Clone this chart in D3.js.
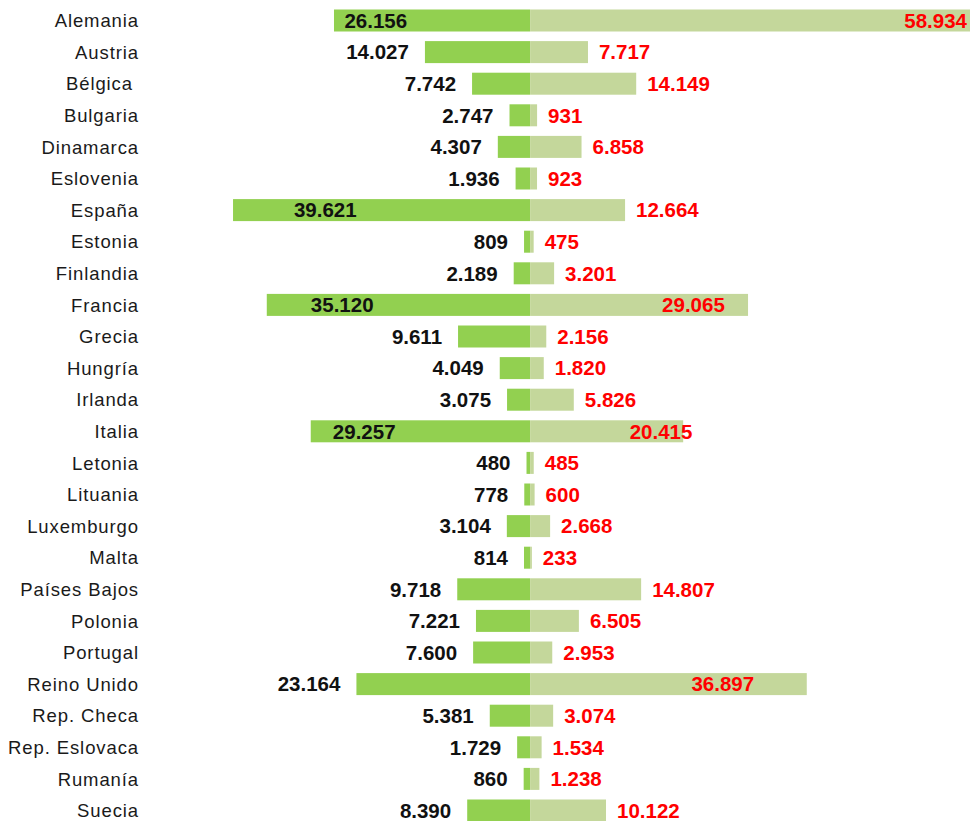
<!DOCTYPE html>
<html>
<head>
<meta charset="utf-8">
<script src="https://cdn.jsdelivr.net/npm/d3@7"></script>
<style>
  body { margin: 0; background: #fff; }
  svg { display: block; }
  .country { font-family: "Liberation Sans", Arial, sans-serif; font-size: 18.5px; letter-spacing: 0.9px; fill: #1a1a1a; white-space: pre; }
  .val { font-family: "Liberation Sans", Arial, sans-serif; font-size: 20.5px; font-weight: bold; }
  .val-left { fill: #111; }
  .val-right { fill: #ff0000; }
</style>
</head>
<body>
<svg id="chart" width="970" height="821"></svg>
<script>
const COUNTRIES = ["Alemania", "Austria", "Bélgica ", "Bulgaria", "Dinamarca", "Eslovenia", "España",
  "Estonia", "Finlandia", "Francia", "Grecia", "Hungría", "Irlanda", "Italia", "Letonia", "Lituania",
  "Luxemburgo", "Malta", "Países Bajos", "Polonia", "Portugal", "Reino Unido", "Rep. Checa",
  "Rep. Eslovaca", "Rumanía", "Suecia"];
const LEFT_VALUES = [26156, 14027, 7742, 2747, 4307, 1936, 39621, 809, 2189, 35120, 9611, 4049, 3075,
  29257, 480, 778, 3104, 814, 9718, 7221, 7600, 23164, 5381, 1729, 860, 8390];
const RIGHT_VALUES = [58934, 7717, 14149, 931, 6858, 923, 12664, 475, 3201, 29065, 2156, 1820, 5826,
  20415, 485, 600, 2668, 233, 14807, 6505, 2953, 36897, 3074, 1534, 1238, 10122];

const rows = COUNTRIES.map((c, i) => ({ country: c, left: LEFT_VALUES[i], right: RIGHT_VALUES[i] }));
const maxRight = d3.max(RIGHT_VALUES);

const svg = d3.select("#chart");
const fmt = d3.formatLocale({ decimal: ",", thousands: ".", grouping: [3], currency: ["", "€"] }).format(",d");

// diverging scale, zero at x=530
const x = d3.scaleLinear().domain([-70700, 58934]).range([0, 972]);
const y = d3.scalePoint().domain(COUNTRIES).range([20.5, 810.5]);
const barH = 22;

// Country names
svg.append("g").selectAll("text").data(rows).enter().append("text")
  .attr("class", "country")
  .attr("x", 139)
  .attr("y", d => y(d.country))
  .attr("dy", "0.36em")
  .attr("text-anchor", "end")
  .text(d => d.country);

// Bars
const bars = svg.append("g");
bars.selectAll("rect.left").data(rows).enter().append("rect")
  .attr("class", "left")
  .attr("x", d => x(-d.left))
  .attr("y", d => y(d.country) - barH / 2)
  .attr("width", d => x(0) - x(-d.left))
  .attr("height", barH)
  .attr("fill", "#92d050");

bars.selectAll("rect.right").data(rows).enter().append("rect")
  .attr("class", "right")
  .attr("x", x(0))
  .attr("y", d => y(d.country) - barH / 2)
  .attr("width", d => x(d.right) - x(0))
  .attr("height", barH)
  .attr("fill", "#c4d79b");

// Left value labels: outside for small bars, inside (centred) for long ones
svg.append("g").selectAll("text").data(rows).enter().append("text")
  .attr("class", "val val-left")
  .attr("x", d => d.left > 25000 ? (x(-d.left) + x(-15000)) / 2 : x(-d.left) - 16)
  .attr("y", d => y(d.country))
  .attr("dy", "0.36em")
  .attr("text-anchor", d => d.left > 25000 ? "middle" : "end")
  .text(d => fmt(d.left));

// Right value labels
function rightX(d) {
  if (d.right === maxRight) return x(d.right) - 5;
  if (d.right > 20000) return (x(d.right) + x(14500)) / 2;
  return x(d.right) + 11;
}
svg.append("g").selectAll("text").data(rows).enter().append("text")
  .attr("class", "val val-right")
  .attr("x", rightX)
  .attr("y", d => y(d.country))
  .attr("dy", "0.36em")
  .attr("text-anchor", d => d.right === maxRight ? "end" : d.right > 20000 ? "middle" : "start")
  .text(d => fmt(d.right));
</script>
</body>
</html>
